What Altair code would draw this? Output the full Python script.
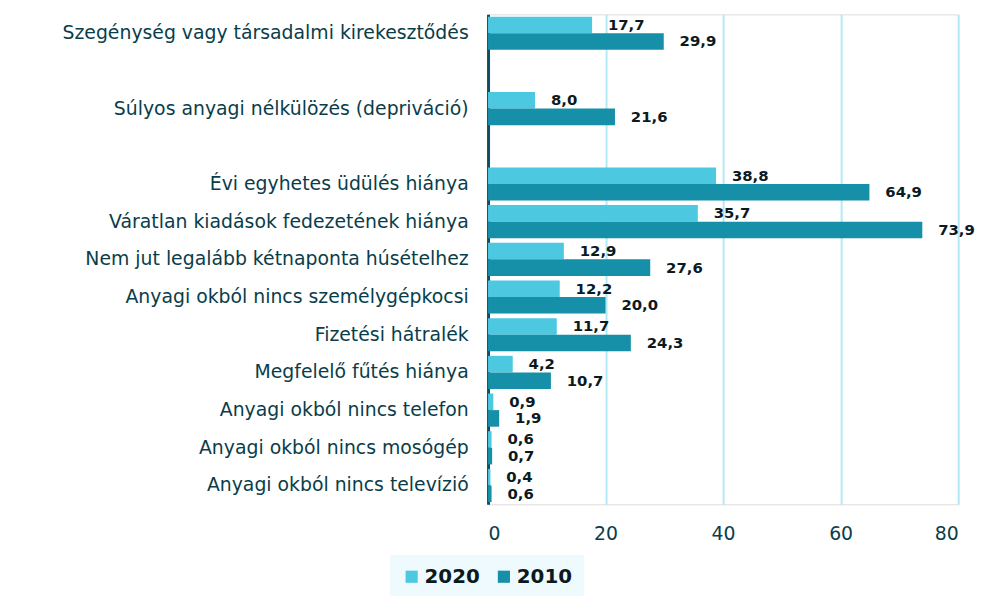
import altair as alt
import pandas as pd

categories = [
    "Szegénység vagy társadalmi kirekesztődés",
    "Súlyos anyagi nélkülözés (depriváció)",
    "Évi egyhetes üdülés hiánya",
    "Váratlan kiadások fedezetének hiánya",
    "Nem jut legalább kétnaponta húsételhez",
    "Anyagi okból nincs személygépkocsi",
    "Fizetési hátralék",
    "Megfelelő fűtés hiánya",
    "Anyagi okból nincs telefon",
    "Anyagi okból nincs mosógép",
    "Anyagi okból nincs televízió",
]
values_2020 = [17.7, 8.0, 38.8, 35.7, 12.9, 12.2, 11.7, 4.2, 0.9, 0.6, 0.4]
values_2010 = [29.9, 21.6, 64.9, 73.9, 27.6, 20.0, 24.3, 10.7, 1.9, 0.7, 0.6]
series = ["2020", "2010"]
x_ticks = [0, 20, 40, 60, 80]

# row order including blank spacer rows
domain = [categories[0], " ", categories[1], "  "] + categories[2:]

rows = []
for c, a, b in zip(categories, values_2020, values_2010):
    rows.append({"cat": c, "series": "2020", "value": a})
    rows.append({"cat": c, "series": "2010", "value": b})
df = pd.DataFrame(rows)

FONT = "DejaVu Sans"
TXT = "#0a3d4a"

y_enc = alt.Y("cat:N", sort=domain,
              scale=alt.Scale(domain=domain, paddingInner=0.12, paddingOuter=0.06),
              axis=alt.Axis(title=None, labelFontSize=19, labelFont=FONT, labelColor=TXT,
                            labelPadding=20, labelLimit=500, ticks=False,
                            domainColor="#0d5160", domainWidth=3))
yoff = alt.YOffset("series:N", sort=series, scale=alt.Scale(domain=series, paddingInner=0, paddingOuter=0))
x_enc = alt.X("value:Q", scale=alt.Scale(domain=[0, 80], nice=False),
              axis=alt.Axis(title=None, values=x_ticks, grid=True, gridColor="#b3e9f5", gridWidth=2,
                            domain=False, ticks=False, labelFontSize=19, labelFont=FONT,
                            labelColor=TXT, labelPadding=20))

bars = alt.Chart(df).mark_bar().encode(
    y=y_enc, yOffset=yoff, x=x_enc,
    color=alt.Color("series:N", sort=series,
                    scale=alt.Scale(domain=series, range=["#4dc8e1", "#168fa8"]),
                    legend=alt.Legend(title=None, orient="none", legendX=-99, legendY=545,
                                      direction="horizontal", symbolType="square", symbolSize=150,
                                      labelFontSize=20, labelFont=FONT, labelFontWeight="bold",
                                      labelColor="#0b1a1f", fillColor="#eefafd", padding=12,
                                      columnPadding=14, symbolStrokeWidth=0, labelOffset=3)),
)

labels = alt.Chart(df).transform_calculate(
    lab="replace(format(datum.value, '.1f'), '.', ',')"
).mark_text(align="left", baseline="middle", dx=16, font=FONT, fontSize=15,
            fontWeight="bold", color="#0b1a1f").encode(
    y=alt.Y("cat:N", sort=domain), yOffset=alt.YOffset("series:N", sort=series),
    x="value:Q", text="lab:N")

chart = alt.layer(bars, labels).properties(
    width=474, height=494,
    autosize=alt.AutoSizeParams(type="none"),
    padding={"left": 484, "top": 4, "right": 19, "bottom": 90},
).configure_view(stroke=None).configure(background="white")

chart.save("out.html", embed_options={"renderer": "svg", "actions": False})
